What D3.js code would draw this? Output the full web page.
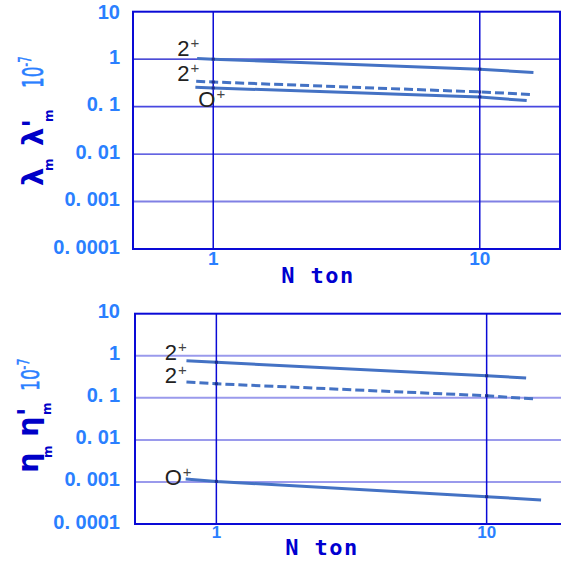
<!DOCTYPE html>
<html><head><meta charset="utf-8">
<script src="https://cdn.jsdelivr.net/npm/d3@7"></script>
<style>html,body{margin:0;padding:0;background:#fff;}svg{display:block;}</style>
</head><body><svg id="c" width="561" height="564"></svg>
<script>
// ---------- data ----------
const yTicks = [10, 1, 0.1, 0.01, 0.001, 0.0001];
const yTickLabels = ["10", "1", "0. 1", "0. 01", "0. 001", "0. 0001"];
const xTicks = [1, 10];
const xTickLabels = ["1", "10"];
const xTitle = "N ton";

// top panel (lambda)
const lamN_2sol = [0.87, 1, 10, 15.9];
const lamV_2sol = [1.03, 1.0, 0.615, 0.524];
const lamN_2dash = [0.863, 1, 10, 15.7];
const lamV_2dash = [0.343, 0.33, 0.204, 0.18];
const lamN_0 = [0.857, 1, 10, 15.0];
const lamV_0 = [0.257, 0.247, 0.160, 0.134];
const lamLabels = ["2", "2", "O"];
const lamLabelN = [0.733, 0.733, 0.879];
const lamLabelV = [1.16, 0.343, 0.097];

// bottom panel (eta)
const etaN_2sol = [0.775, 1, 10, 14.0];
const etaV_2sol = [0.76, 0.70, 0.335, 0.295];
const etaN_2dash = [0.775, 1, 10, 15.0];
const etaV_2dash = [0.237, 0.216, 0.112, 0.094];
const etaN_0 = [0.77, 1, 10, 15.9];
const etaV_0 = [0.00118, 0.00103, 0.000447, 0.000373];
const etaLabels = ["2", "2", "O"];
const etaLabelN = [0.644, 0.644, 0.644];
const etaLabelV = [0.80, 0.228, 0.00086];

// ---------- drawing ----------
const svg = d3.select("#c");
const FRAME = "#0a0ad6";
const LINE = "#4472c4";
const TICKC = "#2a7fff";

function panel(o) {
  const x = d3.scaleLog().domain([0.5, 20]).range([o.left, o.right]);
  const y = d3.scaleLog().domain([0.0001, 10]).range([o.bottom, o.top]);
  const g = svg.append("g");

  // horizontal grid
  g.selectAll(".hg").data(yTicks.slice(1, -1)).join("line")
    .attr("x1", o.left).attr("x2", o.right)
    .attr("y1", d => y(d)).attr("y2", d => y(d))
    .attr("stroke", (d, i) => o.hgColor[i]).attr("stroke-width", (d, i) => o.hgWidth[i]);
  // vertical grid
  g.selectAll(".vg").data(xTicks).join("line")
    .attr("x1", d => x(d)).attr("x2", d => x(d))
    .attr("y1", o.top).attr("y2", o.bottom)
    .attr("stroke", FRAME).attr("stroke-width", 1.5);
  // frame
  g.append("rect").attr("x", o.left).attr("y", o.top)
    .attr("width", o.right - o.left).attr("height", o.bottom - o.top)
    .attr("fill", "none").attr("stroke", FRAME).attr("stroke-width", 2);

  // y tick labels
  g.selectAll(".yl").data(yTicks).join("text")
    .attr("x", 120).attr("y", d => Math.max(y(d) + 4.5, 18.5))
    .attr("text-anchor", "end")
    .attr("font-family", "Liberation Sans").attr("font-weight", "bold")
    .attr("font-size", 20).attr("fill", TICKC)
    .text((d, i) => yTickLabels[i]);
  // x tick labels
  g.selectAll(".xl").data(xTicks).join("text")
    .attr("x", d => x(d)).attr("y", o.bottom + o.xlabOff)
    .attr("text-anchor", "middle")
    .attr("font-family", "Liberation Sans").attr("font-weight", "bold")
    .attr("font-size", o.xlabSize).attr("fill", TICKC)
    .text((d, i) => xTickLabels[i]);
  // x title
  g.append("text").attr("x", o.titleX).attr("y", o.titleY)
    .attr("text-anchor", "middle")
    .attr("font-family", "DejaVu Sans Mono").attr("font-weight", "bold")
    .attr("font-size", 22).attr("letter-spacing", 1.5).attr("fill", "#0000d0")
    .text(xTitle);

  // series
  const line = d3.line().x(d => x(d[0])).y(d => y(d[1]));
  o.series.forEach(s => {
    const pts = s.n.map((n, i) => [n, s.v[i]]);
    g.append("path").datum(pts).attr("d", line)
      .attr("fill", "none").attr("stroke", LINE).attr("stroke-width", 3)
      .attr("stroke-dasharray", s.dash ? "9,4" : null);
    g.selectAll(null).data(pts.filter(p => p[0] === 1 || p[0] === 10)).join("rect")
      .attr("x", d => x(d[0]) - 1.5).attr("y", d => y(d[1]) - 1.5)
      .attr("width", 3).attr("height", 3).attr("fill", "#1a2a90");
  });

  // series labels
  o.labels.forEach((t, i) => {
    const tx = g.append("text").attr("x", x(o.labelN[i])).attr("y", y(o.labelV[i]))
      .attr("font-family", "Liberation Sans").attr("font-size", 22).attr("fill", "#222");
    tx.append("tspan").text(t);
    tx.append("tspan").attr("dx", 1).attr("dy", -8).attr("font-size", 15).attr("fill", "#444").text("+");
  });
  return {x, y};
}

panel({
  left: 133, right: 560, top: 11.7, bottom: 249,
  hgColor: ["#1010c8", "#4848e0", "#3030d8", "#8080e4"], hgWidth: [1.2, 1.8, 1.2, 2],
  xlabOff: 16, xlabSize: 19, titleX: 318, titleY: 283,
  series: [
    {n: lamN_2sol, v: lamV_2sol, dash: false},
    {n: lamN_2dash, v: lamV_2dash, dash: true},
    {n: lamN_0, v: lamV_0, dash: false}
  ],
  labels: lamLabels, labelN: lamLabelN, labelV: lamLabelV
});
panel({
  left: 135, right: 568, top: 313.7, bottom: 524,
  hgColor: ["#9a9aec", "#9a9aec", "#9a9aec", "#9a9aec"], hgWidth: [2, 2, 2, 2],
  xlabOff: 14, xlabSize: 17, titleX: 322, titleY: 555,
  series: [
    {n: etaN_2sol, v: etaV_2sol, dash: false},
    {n: etaN_2dash, v: etaV_2dash, dash: true},
    {n: etaN_0, v: etaV_0, dash: false}
  ],
  labels: etaLabels, labelN: etaLabelN, labelV: etaLabelV
});

// y axis titles (rotated)
function yTitle(tx, ty, sym, parts, unit) {
  const t = svg.append("text").attr("transform", `translate(${tx},${ty}) rotate(-90)`)
    .attr("font-family", "DejaVu Sans");
  parts.forEach(p => {
    t.append("tspan").attr("x", p.x).attr("y", p.y)
      .attr("font-size", p.size).attr("font-weight", p.bold ? "bold" : "normal")
      .attr("fill", p.color).text(p.text.replace("S", sym));
  });
  // unit "10^-7" (condensed)
  const u = svg.append("text")
    .attr("transform", `translate(${unit.bx},${unit.by}) rotate(-90) scale(${unit.sx},1)`)
    .attr("font-family", "DejaVu Sans").attr("fill", TICKC)
    .attr("stroke", TICKC).attr("stroke-width", 0.6);
  u.append("tspan").attr("x", 0).attr("y", 0).attr("font-size", unit.size).text("10");
  u.append("tspan").attr("x", unit.supX).attr("y", unit.supY).attr("font-size", unit.supSize).text("-7");
}
const DK = "#0000c8";
yTitle(43, 186, "λ", [
  {text: "S", x: 0, y: 0, size: 29, bold: true, color: DK},
  {text: "m", x: 15, y: 10, size: 12, bold: true, color: DK},
  {text: "S'", x: 40, y: 0, size: 29, bold: true, color: DK},
  {text: "m", x: 64, y: 10, size: 12, bold: true, color: DK}
], {bx: 43, by: 88, sx: 0.6, size: 28, supX: 36, supY: -12, supSize: 17});
yTitle(38, 473, "η", [
  {text: "S", x: 0, y: 0, size: 29, bold: true, color: DK},
  {text: "m", x: 15, y: 14, size: 12, bold: true, color: DK},
  {text: "S'", x: 36, y: 0, size: 29, bold: true, color: DK},
  {text: "m", x: 58, y: 13, size: 12, bold: true, color: DK}
], {bx: 39, by: 391, sx: 0.72, size: 24, supX: 30, supY: -10, supSize: 15});
</script></body></html>
